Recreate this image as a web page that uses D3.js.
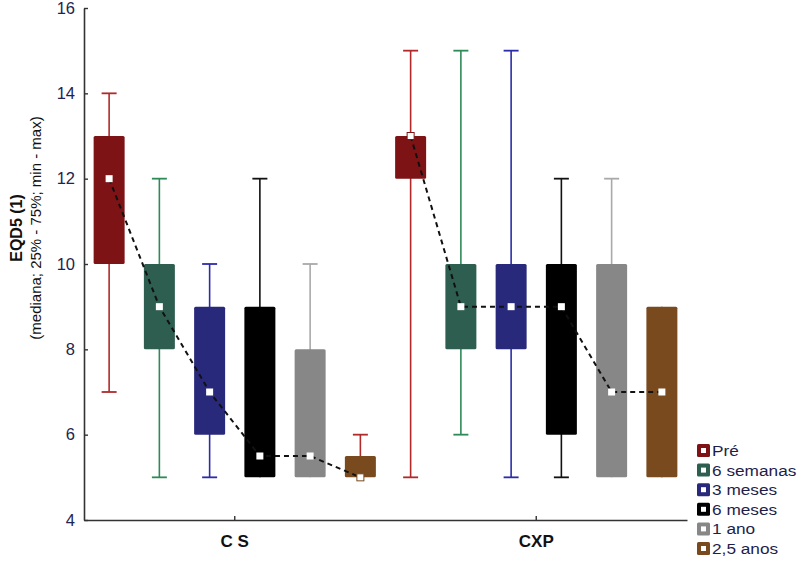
<!DOCTYPE html>
<html>
<head>
<meta charset="utf-8">
<script src="https://cdn.jsdelivr.net/npm/d3@7"></script>
<style>
  body { margin: 0; background: #fff; }
  text { font-family: Arial, "Liberation Sans", sans-serif; }
</style>
</head>
<body>
<div id="chart"></div>
<script>
// categories
let groups      = ["CS", "CXP"];
let groupLabels = ["C S", "CXP"];
let periods     = ["Pré", "6 semanas", "3 meses", "6 meses", "1 ano", "2,5 anos"];
let yTicks      = [4, 6, 8, 10, 12, 14, 16];

// CS values per period
let csMin = [7,  5,  5, 5,   5,   5];
let csQ1  = [10, 8,  6, 5,   5,   5];
let csMed = [12, 9,  7, 5.5, 5.5, 5];
let csQ3  = [13, 10, 9, 9,   8,   5.5];
let csMax = [14, 12, 10, 12, 10,  6];

// CXP values per period
let cxpMin = [5,  6,  5,  5,  5,  5];
let cxpQ1  = [12, 8,  8,  6,  5,  5];
let cxpMed = [13, 9,  9,  9,  7,  7];
let cxpQ3  = [13, 10, 10, 10, 10, 9];
let cxpMax = [15, 15, 15, 12, 12, 9];

let fillColors    = ["#7d1315", "#2e5e4f", "#29297b", "#000000", "#878787", "#7a4a1f"];
let whiskerColors = ["#b02a2a", "#2e8b57", "#2c2ca8", "#111111", "#a9a9a9", "#b02a2a"];

let width = 800, height = 564;
let plot = { left: 84, right: 687, top: 8, bottom: 520 };
let tickColor = "#23234f";

let stats = {
  CS:  { min: csMin,  q1: csQ1,  med: csMed,  q3: csQ3,  max: csMax },
  CXP: { min: cxpMin, q1: cxpQ1, med: cxpMed, q3: cxpQ3, max: cxpMax }
};

let data = [];
groups.forEach(function(g) {
  periods.forEach(function(p, i) {
    let s = stats[g];
    data.push({ group: g, period: p, idx: i,
                min: s.min[i], q1: s.q1[i], med: s.med[i], q3: s.q3[i], max: s.max[i] });
  });
});

let svg = d3.select("#chart").append("svg")
  .attr("width", width)
  .attr("height", height);

let x0 = d3.scaleBand()
  .domain(groups)
  .range([plot.left, plot.right]);

let x1 = d3.scaleBand()
  .domain(periods)
  .range([0, x0.bandwidth()]);

let y = d3.scaleLinear()
  .domain([4, 16])
  .range([plot.bottom, plot.top]);

let boxW = 31, capW = 15;

function cx(d) { return x0(d.group) + x1(d.period) + x1.bandwidth() / 2; }

// axes
let yAxis = svg.append("g")
  .attr("transform", "translate(" + plot.left + ",0)")
  .call(d3.axisLeft(y).tickValues(yTicks).tickSizeInner(-4).tickSizeOuter(0).tickPadding(9));

let xAxis = svg.append("g")
  .attr("transform", "translate(0," + plot.bottom + ")")
  .call(d3.axisBottom(x0).tickSizeInner(-4).tickSizeOuter(0).tickPadding(13)
          .tickFormat(function(d, i) { return groupLabels[i]; }));

[yAxis, xAxis].forEach(function(a) {
  a.select(".domain").attr("stroke", "#333").attr("stroke-width", 1.6);
  a.selectAll(".tick line").attr("stroke", "#333").attr("stroke-width", 1.4);
});
yAxis.selectAll(".tick text")
  .attr("fill", tickColor)
  .style("font-size", "16.5px");
xAxis.selectAll(".tick text")
  .attr("fill", "#111")
  .attr("dy", "0.8em")
  .style("font-size", "17px")
  .style("font-weight", "bold");

// axis title
svg.append("text")
  .attr("transform", "translate(22," + 228 + ") rotate(-90)")
  .attr("text-anchor", "middle")
  .style("font-size", "16px")
  .style("font-weight", "bold")
  .attr("fill", "#111")
  .text("EQD5 (1)");

svg.append("text")
  .attr("transform", "translate(41," + 228 + ") rotate(-90)")
  .attr("text-anchor", "middle")
  .style("font-size", "15px")
  .attr("fill", "#111")
  .text("(mediana; 25% - 75%; min - max)");

// boxes
let box = svg.selectAll(".box")
  .data(data)
  .enter().append("g")
    .attr("class", "box");

box.append("line")
  .attr("x1", cx).attr("x2", cx)
  .attr("y1", function(d) { return y(d.max); })
  .attr("y2", function(d) { return y(d.min); })
  .attr("stroke", function(d) { return whiskerColors[d.idx]; })
  .attr("stroke-width", 1.6);

box.selectAll(".cap")
  .data(function(d) {
    let caps = [];
    if (d.max > d.q3) caps.push({ d: d, v: d.max });
    if (d.min < d.q1) caps.push({ d: d, v: d.min });
    return caps;
  })
  .enter().append("line")
    .attr("x1", function(c) { return cx(c.d) - capW / 2; })
    .attr("x2", function(c) { return cx(c.d) + capW / 2; })
    .attr("y1", function(c) { return y(c.v); })
    .attr("y2", function(c) { return y(c.v); })
    .attr("stroke", function(c) { return whiskerColors[c.d.idx]; })
    .attr("stroke-width", 1.8);

box.append("rect")
  .attr("x", function(d) { return cx(d) - boxW / 2; })
  .attr("y", function(d) { return y(d.q3); })
  .attr("width", boxW)
  .attr("height", function(d) { return y(d.q1) - y(d.q3); })
  .attr("rx", 1.5)
  .attr("fill", function(d) { return fillColors[d.idx]; });

// median trend lines
let line = d3.line()
  .x(cx)
  .y(function(d) { return y(d.med); });

groups.forEach(function(g) {
  svg.append("path")
    .datum(data.filter(function(d) { return d.group === g; }))
    .attr("d", line)
    .attr("fill", "none")
    .attr("stroke", "#111")
    .attr("stroke-width", 2)
    .attr("stroke-dasharray", "5,4");
});

// median markers
svg.selectAll(".med")
  .data(data)
  .enter().append("rect")
    .attr("class", "med")
    .attr("x", function(d) { return cx(d) - 3.5; })
    .attr("y", function(d) { return y(d.med) - 3.5; })
    .attr("width", 7)
    .attr("height", 7)
    .attr("fill", "#fff")
    .attr("stroke", function(d) { return d.med === d.q1 || d.med === d.q3 ? fillColors[d.idx] : "none"; })
    .attr("stroke-width", 1);

// legend
let legend = svg.append("g")
  .attr("transform", "translate(697,444)");

let item = legend.selectAll(".item")
  .data(periods)
  .enter().append("g")
    .attr("transform", function(d, i) { return "translate(0," + (i * 19.6) + ")"; });

item.append("rect")
  .attr("width", 13).attr("height", 13)
  .attr("rx", 1.5)
  .attr("fill", function(d, i) { return fillColors[i]; });

item.append("rect")
  .attr("x", 4).attr("y", 4)
  .attr("width", 5).attr("height", 5)
  .attr("fill", "#fff");

item.append("text")
  .attr("transform", "translate(15,12) scale(1.15,1)")
  .style("font-size", "15px")
  .attr("fill", "#1e1e4a")
  .text(function(d) { return d; });
</script>
</body>
</html>
